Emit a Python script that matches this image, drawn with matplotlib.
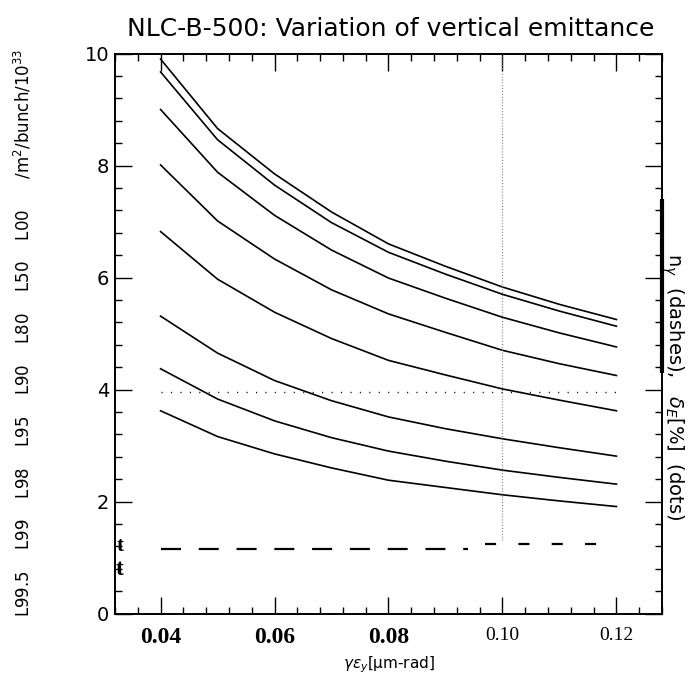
import matplotlib
matplotlib.use("Agg")
import matplotlib.pyplot as plt
import numpy as np

# emittance values (um-rad) at which the luminosity curves were read
emit = [0.04, 0.05, 0.06, 0.07, 0.08, 0.09, 0.10, 0.11, 0.12]

# luminosity curves, top to bottom (/m^2/bunch/10^33)
lum_1 = [9.90, 8.66, 7.85, 7.17, 6.60, 6.20, 5.83, 5.52, 5.25]
lum_2 = [9.67, 8.46, 7.65, 6.98, 6.45, 6.06, 5.70, 5.40, 5.13]
lum_3 = [9.00, 7.88, 7.11, 6.49, 5.99, 5.63, 5.29, 5.01, 4.76]
lum_4 = [8.01, 7.01, 6.33, 5.78, 5.35, 5.02, 4.70, 4.46, 4.25]
lum_5 = [6.82, 5.97, 5.38, 4.91, 4.52, 4.26, 4.01, 3.81, 3.62]
lum_6 = [5.31, 4.65, 4.16, 3.80, 3.51, 3.30, 3.12, 2.96, 2.81]
lum_7 = [4.37, 3.83, 3.44, 3.14, 2.90, 2.72, 2.56, 2.43, 2.31]
lum_8 = [3.62, 3.16, 2.85, 2.60, 2.38, 2.25, 2.12, 2.01, 1.91]
curves = [lum_1, lum_2, lum_3, lum_4, lum_5, lum_6, lum_7, lum_8]

# photons per electron (dashes), two segments
ng_x_a = [0.04, 0.094]
ng_y_a = [1.15, 1.15]
ng_x_b = [0.097, 0.12]
ng_y_b = [1.25, 1.25]

# energy spread (dots)
de_x = [0.04, 0.12]
de_y = [3.95, 3.95]

# nominal emittance marker
nominal_x = 0.10
nominal_y = [1.32, 10.0]

x_ticks = [0.04, 0.06, 0.08, 0.10, 0.12]
x_ticklabels = ["0.04", "0.06", "0.08", "0.10", "0.12"]
y_ticks = [0, 2, 4, 6, 8, 10]

SERIF = ["Liberation Serif", "DejaVu Serif"]

fig = plt.figure(figsize=(6.89, 6.79), dpi=100)
ax = fig.add_axes([115 / 689, 1 - 613.5 / 679, (662 - 115) / 689, (613.5 - 53.5) / 679])

for c in curves:
    ax.plot(emit, c, color="black", lw=1.2)

ax.plot(ng_x_a, ng_y_a, color="black", lw=1.6, dashes=(9, 8))
ax.plot(ng_x_b, ng_y_b, color="black", lw=1.6, dashes=(5, 10))
ax.plot(de_x, de_y, color="black", lw=1.0, dashes=(0.8, 6))
ax.plot([nominal_x, nominal_x], nominal_y, color="gray", lw=0.9, dashes=(0.8, 1.5))

ax.set_xlim(0.032, 0.1277)
ax.set_ylim(0, 10)
ax.set_xticks(x_ticks)
ax.set_xticks(np.arange(0.032, 0.1281, 0.004), minor=True)
ax.set_yticks(y_ticks)
ax.set_yticks(np.arange(0, 10.01, 0.4), minor=True)
ax.tick_params(which="both", direction="in", top=True, right=True, width=1.0)
ax.tick_params(which="major", length=12)
ax.tick_params(which="minor", length=5)
ax.tick_params(axis="x", which="major", pad=10)
ax.tick_params(axis="y", which="major", pad=4)

ax.set_xticklabels(x_ticklabels)
for i, lab in enumerate(ax.get_xticklabels()):
    lab.set_fontfamily(SERIF)
    if i < 3:
        lab.set_fontweight("bold")
        lab.set_fontsize(17)
    else:
        lab.set_fontsize(14)
for lab in ax.get_yticklabels():
    lab.set_fontsize(14)

for s in ax.spines.values():
    s.set_linewidth(1.4)

# heavier stretch of the right frame
ax.plot([1, 1], [0.43, 0.74], transform=ax.transAxes, color="black", lw=3.0,
        clip_on=False, solid_capstyle="butt")

# small 't' marks at the left frame
ax.text(0.0322, 1.2, "t", fontsize=15, fontweight="bold", family=SERIF,
        va="center", ha="left")
ax.text(0.0322, 0.78, "t", fontsize=17, fontweight="bold", family=SERIF,
        va="center", ha="left")

fig.text(0.567, 0.958, "NLC-B-500: Variation of vertical emittance",
         fontsize=18, ha="center", va="center")
ax.set_xlabel(r"$\gamma\epsilon_y$[μm-rad]", fontsize=11, labelpad=4)

fig.text(0.034, 0.51,
         "L99.5    L99    L98    L95    L90    L80    L50    L00      /m$^2$/bunch/10$^{33}$",
         rotation=90, fontsize=12, ha="center", va="center")
fig.text(0.977, 0.43, r"n$_\gamma$  (dashes),   $\delta_E$[%]  (dots)",
         rotation=-90, fontsize=14, ha="center", va="center")

fig.savefig("out.png", dpi=100)
